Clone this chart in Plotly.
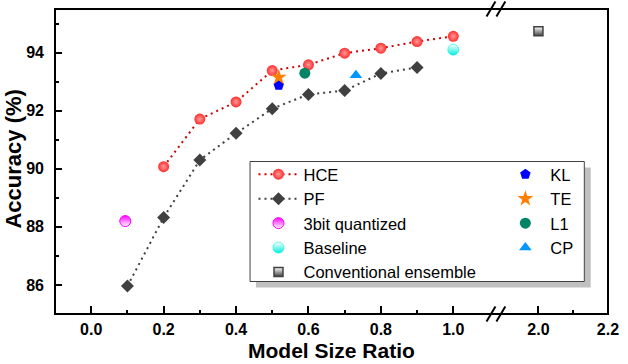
import plotly.graph_objects as go

# data
hce_x = [0.2, 0.3, 0.4, 0.5, 0.6, 0.7, 0.8, 0.9, 1.0]
hce_y = [90.07, 91.71, 92.30, 93.38, 93.58, 93.98, 94.15, 94.38, 94.56]
pf_x = [0.1, 0.2, 0.3, 0.4, 0.5, 0.6, 0.7, 0.8, 0.9]
pf_y = [85.96, 88.32, 90.30, 91.22, 92.07, 92.56, 92.69, 93.28, 93.49]
quant_x, quant_y = [0.094], [88.20]
base_x, base_y = [1.0], [94.10]
conv_x, conv_y = [2.0], [94.73]
kl_x, kl_y = [0.518], [92.87]
te_x, te_y = [0.518], [93.15]
l1_x, l1_y = [0.59], [93.29]
cp_x, cp_y = [0.731], [93.22]

x_ticks_left = [0.0, 0.2, 0.4, 0.6, 0.8, 1.0]
x_ticks_right = [2.0, 2.2]
y_ticks = [86, 88, 90, 92, 94]

FONT = "Liberation Sans, Arial, sans-serif"
W, H = 628, 364
L, R, T, B = 55, 13, 9, 50
PW, PH = W - L - R, H - T - B
SPLIT = 0.7988


def px(x):
    return (x - L) / PW


def py(y):
    return (H - B - y) / PH


fig = go.Figure()

# left column of legend
fig.add_trace(go.Scatter(
    x=hce_x, y=hce_y, name="HCE", mode="lines+markers",
    line=dict(color="#cc0000", width=2, dash="2px,4px"),
    marker=dict(symbol="circle", size=11, color="#ff2e2e",
                gradient=dict(type="radial", color="#ff9a9a"),
                line=dict(width=0)),
    legend="legend",
))
fig.add_trace(go.Scatter(
    x=pf_x, y=pf_y, name="PF", mode="lines+markers",
    line=dict(color="#404040", width=2, dash="2px,4px"),
    marker=dict(symbol="diamond", size=10, color="#404040", line=dict(width=0)),
    legend="legend",
))
fig.add_trace(go.Scatter(
    x=quant_x, y=quant_y, name="3bit quantized", mode="markers",
    marker=dict(symbol="circle", size=11, color="#ff00ff",
                gradient=dict(type="vertical", color="#ffffff"),
                line=dict(width=1, color="#ff00ff")),
    legend="legend",
))
fig.add_trace(go.Scatter(
    x=base_x, y=base_y, name="Baseline", mode="markers",
    marker=dict(symbol="circle", size=11, color="#ffffff",
                gradient=dict(type="vertical", color="#00f0dc"),
                line=dict(width=0.6, color="#00f0dc")),
    legend="legend",
))
fig.add_trace(go.Scatter(
    x=conv_x, y=conv_y, name="Conventional ensemble", mode="markers",
    xaxis="x2",
    marker=dict(symbol="square", size=9, color="#ffffff",
                gradient=dict(type="vertical", color="#404040"),
                line=dict(width=1.5, color="#404040")),
    legend="legend",
))

# right column of legend
fig.add_trace(go.Scatter(
    x=kl_x, y=kl_y, name="KL", mode="markers",
    marker=dict(symbol="pentagon", size=11, color="#0000ff", line=dict(width=0)),
    legend="legend2",
))
fig.add_trace(go.Scatter(
    x=te_x, y=te_y, name="TE", mode="markers",
    marker=dict(symbol="star", size=12, color="#ff8000", line=dict(width=0)),
    legend="legend2",
))
fig.add_trace(go.Scatter(
    x=l1_x, y=l1_y, name="L1", mode="markers",
    marker=dict(symbol="circle", size=11, color="#008466", line=dict(width=0)),
    legend="legend2",
))
fig.add_trace(go.Scatter(
    x=cp_x, y=cp_y, name="CP", mode="markers",
    marker=dict(symbol="triangle-up", size=11, color="#0096ff", line=dict(width=0)),
    legend="legend2",
))

tick_font = dict(family=FONT, size=16, color="black", weight="bold")
common_x = dict(
    ticks="inside", ticklen=8, tickwidth=2, tickcolor="black",
    showgrid=False, zeroline=False, showline=False,
    tickfont=tick_font, ticklabelstandoff=4,
)
legend_font = dict(family=FONT, size=16.5, color="black")

fig.update_layout(
    width=W, height=H,
    margin=dict(l=L, r=R, t=T, b=B),
    paper_bgcolor="white", plot_bgcolor="white",
    font=dict(family=FONT, color="black"),
    xaxis=dict(
        domain=[0, SPLIT], range=[-0.1, 1.12],
        tickvals=x_ticks_left, ticktext=[f"{v:.1f}" for v in x_ticks_left],
        minor=dict(ticks="inside", ticklen=4, tickwidth=2, tickcolor="black",
                   tickmode="array", tickvals=[0.1, 0.3, 0.5, 0.7, 0.9]),
        anchor="y", **common_x,
    ),
    xaxis2=dict(
        domain=[SPLIT, 1], range=[1.88, 2.2001],
        tickvals=x_ticks_right, ticktext=[f"{v:.1f}" for v in x_ticks_right],
        minor=dict(ticks="inside", ticklen=4, tickwidth=2, tickcolor="black",
                   tickmode="array", tickvals=[2.1]),
        anchor="y", **common_x,
    ),
    yaxis=dict(
        range=[85, 95.5], tickvals=y_ticks,
        ticks="inside", ticklen=7, tickwidth=2, tickcolor="black",
        minor=dict(ticks="inside", ticklen=4, tickwidth=2, tickcolor="black",
                   tickmode="array", tickvals=[85, 87, 89, 91, 93, 95]),
        showgrid=False, zeroline=False, showline=False,
        tickfont=tick_font, ticklabelstandoff=10,
    ),
    legend=dict(
        x=px(256), y=py(157), xanchor="left", yanchor="top",
        bgcolor="rgba(0,0,0,0)", borderwidth=0, itemwidth=40,
        font=legend_font, itemclick=False,
    ),
    legend2=dict(
        x=px(506), y=py(157), xanchor="left", yanchor="top",
        bgcolor="rgba(0,0,0,0)", borderwidth=0, itemwidth=40,
        font=legend_font, itemclick=False,
    ),
    showlegend=True,
)

shapes = [
    # legend shadow and box
    dict(type="rect", xref="paper", yref="paper", layer="above",
         x0=px(258.5), x1=px(597.5), y0=py(287.5), y1=py(167.5),
         fillcolor="#c0c0c0", line=dict(width=0)),
    dict(type="rect", xref="paper", yref="paper", layer="above",
         x0=px(252.5), x1=px(591), y0=py(281.5), y1=py(161.5),
         fillcolor="white", line=dict(width=1, color="#404040")),
    # frame
    dict(type="rect", xref="paper", yref="paper", x0=0, x1=1, y0=0, y1=1,
         line=dict(width=2, color="black")),
]
# axis break marks
for yc in (H - B, T):
    for xc in (496.5, 506.5):
        shapes.append(dict(type="line", xref="paper", yref="paper",
                           x0=px(xc - 4.5), y0=py(yc + 7.5),
                           x1=px(xc + 4.5), y1=py(yc - 7.5),
                           line=dict(width=2, color="black")))
fig.update_layout(shapes=shapes)

fig.add_annotation(
    text="Model Size Ratio", xref="paper", yref="paper",
    x=0.5, y=py(350.5), xanchor="center", yanchor="middle", showarrow=False,
    font=dict(family=FONT, size=21, color="black", weight="bold"),
)
fig.add_annotation(
    text="Accuracy (%)", xref="paper", yref="paper", textangle=-90,
    x=px(12.5), y=py(159.5), xanchor="center", yanchor="middle", showarrow=False,
    font=dict(family=FONT, size=22, color="black", weight="bold"),
)

# the page body has a default 8px margin; drop it so the figure fills the window
fig.write_html("out.html", config={"displayModeBar": False},
               post_script="document.body.style.margin='0';")
